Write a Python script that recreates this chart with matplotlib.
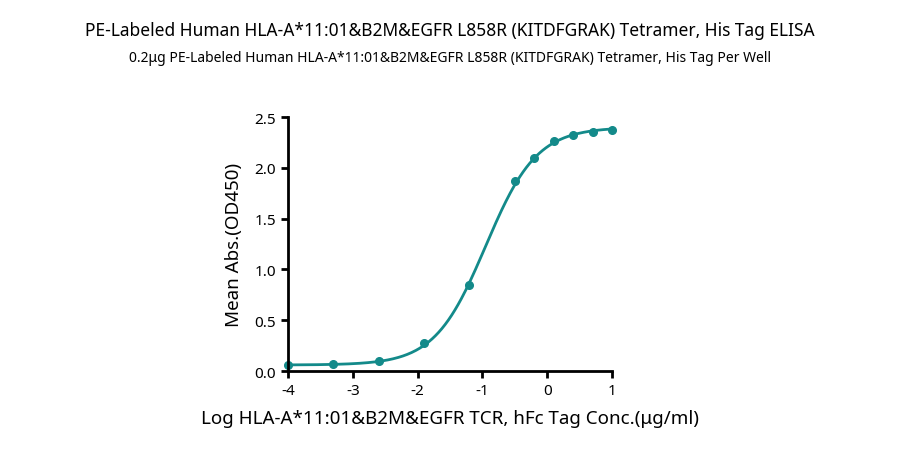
import numpy as np
import matplotlib
matplotlib.use("Agg")
import matplotlib.pyplot as plt

plt.rcParams['font.family'] = ['Noto Sans', 'DejaVu Sans']
plt.rcParams['axes.unicode_minus'] = False

log_conc = [-4, -3.3, -2.6, -1.9, -1.2, -0.5, -0.2, 0.1, 0.4, 0.7, 1.0]
od450 = [0.06, 0.07, 0.10, 0.28, 0.85, 1.87, 2.10, 2.26, 2.32, 2.35, 2.37]
fit_bottom, fit_top, fit_logec50, fit_hill = 0.06, 2.40, -0.95, 1.1

color = "#138a8a"
fig = plt.figure(figsize=(9, 4.56), dpi=100)
ax = fig.add_axes([0.32, 0.184, 0.36, 0.557])
xs = np.linspace(-4, 1, 300)
ys = fit_bottom + (fit_top - fit_bottom) / (1 + 10 ** (fit_hill * (fit_logec50 - xs)))
ax.plot(xs, ys, color=color, lw=2)
ax.plot(log_conc, od450, 'o', color=color, ms=5.5, clip_on=False)
ax.set_xlim(-4, 1); ax.set_ylim(0, 2.5)
ax.set_xticks(range(-4, 2)); ax.set_yticks([0, 0.5, 1.0, 1.5, 2.0, 2.5])
ax.set_yticklabels(["0.0", "0.5", "1.0", "1.5", "2.0", "2.5"])
for s in ["top", "right"]:
    ax.spines[s].set_visible(False)
for s in ["left", "bottom"]:
    ax.spines[s].set_linewidth(2)
ax.tick_params(width=2, length=5, labelsize=11)
for l in ax.get_xticklabels() + ax.get_yticklabels():
    l.set_fontweight("bold")
ax.set_xlabel("Log HLA-A*11:01&B2M&EGFR TCR, hFc Tag Conc.(μg/ml)", fontsize=13.5, fontweight="bold", labelpad=8)
ax.set_ylabel("Mean Abs.(OD450)", fontsize=13.5, fontweight="bold", labelpad=8)
fig.text(0.5, 0.92, "PE-Labeled Human HLA-A*11:01&B2M&EGFR L858R (KITDFGRAK) Tetramer, His Tag ELISA",
         ha="center", fontsize=12.5, fontweight="bold")
fig.text(0.5, 0.865, "0.2μg PE-Labeled Human HLA-A*11:01&B2M&EGFR L858R (KITDFGRAK) Tetramer, His Tag Per Well",
         ha="center", fontsize=10)
fig.savefig("out.png", dpi=100)
